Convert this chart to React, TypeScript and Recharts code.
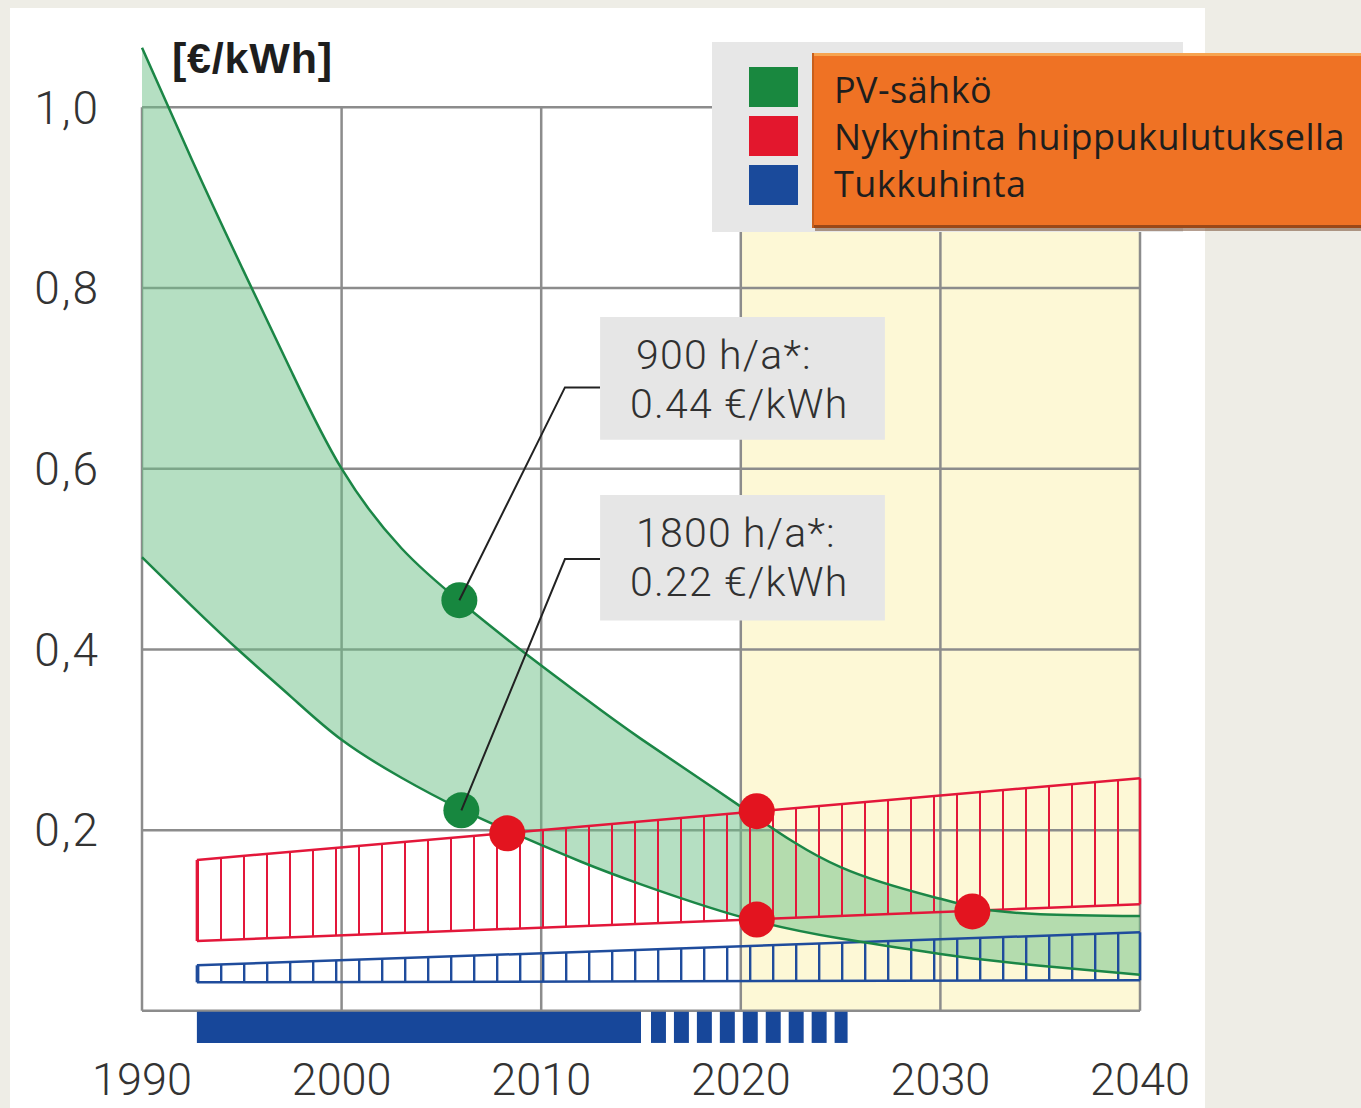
import React from 'react'
import {
  ComposedChart,
  Area,
  Line,
  XAxis,
  YAxis,
  Legend,
  ReferenceArea,
  ReferenceLine,
  ReferenceDot,
} from 'recharts'

// PV electricity cost band: upper edge = 900 h/a, lower edge = 1800 h/a
const pvYears = [1990, 1992.5, 1995, 1997.5, 2000, 2003, 2006, 2009, 2012, 2015, 2020, 2025, 2030, 2032, 2035, 2040]
const pv900 = [1.066, 0.942, 0.823, 0.707, 0.6, 0.512, 0.452, 0.399, 0.349, 0.301, 0.226, 0.159, 0.124, 0.113, 0.107, 0.105]
const pv1800 = [0.502, 0.448, 0.396, 0.347, 0.3, 0.258, 0.223, 0.193, 0.165, 0.14, 0.104, 0.08, 0.063, 0.057, 0.05, 0.04]

// peak-time retail price and wholesale price bands (straight edges)
const bandYears = [1992.75, 2040]
const peakLow = [0.0773, 0.118]
const peakHigh = [0.167, 0.2574]
const wholesaleLow = [0.0316, 0.0338]
const wholesaleHigh = [0.0504, 0.0869]

const pvDots = [
  { x: 2005.9, y: 0.4545 },
  { x: 2006.0, y: 0.222 },
]
const parityDots = [
  { x: 2008.3, y: 0.1965 },
  { x: 2020.8, y: 0.221 },
  { x: 2020.8, y: 0.101 },
  { x: 2031.6, y: 0.11 },
]

// timeline bar under the axis
const timelineSolid = [1992.75, 2015.0]
const dashStarts = [2015.5, 2016.65, 2017.8, 2018.95, 2020.1, 2021.25, 2022.4, 2023.55, 2024.7]
const dashEnds = [2016.25, 2017.4, 2018.55, 2019.7, 2020.85, 2022.0, 2023.15, 2024.3, 2025.35]

const xTicks = [1990, 2000, 2010, 2020, 2030, 2040]
const yTicks = [0.2, 0.4, 0.6, 0.8, 1.0]
const gridValues = [0, 0.2, 0.4, 0.6, 0.8, 1.0]
const forecastRange = [2020, 2040]

const callouts = [
  { lines: ['900 h/a*:', '0.44 €/kWh'], box: [2012.95, 2027.22, 0.632, 0.768], leader: [0.69, 2011.19], dot: pvDots[0] },
  { lines: ['1800 h/a*:', '0.22 €/kWh'], box: [2012.95, 2027.22, 0.432, 0.571], leader: [0.5, 2011.19], dot: pvDots[1] },
]

const legendItems = [
  { label: 'PV-sähkö', color: '#19883f' },
  { label: 'Nykyhinta huippukulutuksella', color: '#e3172d' },
  { label: 'Tukkuhinta', color: '#1a4a9b' },
]

const GREEN = '#1b8646'
const RED = '#e3173a'
const BLUE = '#1f4c9c'
const GRID = '#8c8c8c'
const LIGHT = { fontFamily: 'Roboto, "Liberation Sans", sans-serif', fontWeight: 300 }

const pvData = pvYears.map((x, i) => ({ x, band: [pv1800[i], pv900[i]], high: pv900[i], low: pv1800[i] }))
const peakData = bandYears.map((x, i) => ({ x, band: [peakLow[i], peakHigh[i]] }))
const wholesaleData = bandYears.map((x, i) => ({ x, band: [wholesaleLow[i], wholesaleHigh[i]] }))

function calloutLabel(lines: string[]) {
  return (props: any) => {
    const { x, y } = props.viewBox
    return (
      <text fontSize={41} letterSpacing={1.2} fill="#303030" {...LIGHT}>
        <tspan x={x + 36} y={y + 52}>{lines[0]}</tspan>
        <tspan x={x + 30} y={y + 101}>{lines[1]}</tspan>
      </text>
    )
  }
}

function unitLabel(props: any) {
  const { x, y, width } = props.viewBox
  return (
    <text x={x + width + 30} y={y + 38} fontSize={43} fontWeight={700} fill="#1e1e1e" letterSpacing={0.8}
      fontFamily='"Liberation Sans", Arial, sans-serif'>
      [€/kWh]
    </text>
  )
}

function LegendBox() {
  return (
    <svg width={649} height={196} style={{ display: 'block' }}>
      <rect x={0} y={0} width={471} height={190} fill="#e7e7e7" />
      {legendItems.map((item, i) => (
        <rect key={item.label} x={37} y={25 + i * 49} width={49} height={40} fill={item.color} />
      ))}
      <rect x={103} y={14} width={549} height={175} fill="#5a2a0a" opacity={0.45} />
      <rect x={100} y={11} width={549} height={175} fill="#ef7224" />
      <rect x={100} y={11} width={549} height={3} fill="#f7a450" />
      <rect x={100} y={183} width={549} height={3} fill="#9a4818" />
      <rect x={100} y={11} width={2} height={175} fill="#c85f1c" />
      {legendItems.map((item, i) => (
        <text key={item.label} x={122} y={61 + i * 47} fontSize={36} letterSpacing={0.45} fill="#1e1e1e"
          fontFamily='"Open Sans", sans-serif'>
          {item.label}
        </text>
      ))}
    </svg>
  )
}

export default function App() {
  return (
    <div style={{ position: 'absolute', left: 0, top: 0, width: 1361, height: 1108, overflow: 'hidden', background: '#eeede6' }}>
      <div style={{ position: 'absolute', left: 10, top: 8, width: 1195, height: 1100, background: '#ffffff' }} />
      <div style={{ position: 'absolute', left: 0, top: 0 }}>
        <ComposedChart width={1361} height={1108} margin={{ top: 35, right: 221, bottom: 0, left: 0 }}>
          <defs>
            <pattern id="peakHatch" patternUnits="userSpaceOnUse" x={197} y={0} width={23} height={40}>
              <rect x={0} y={0} width={2} height={40} fill={RED} />
            </pattern>
            <pattern id="wholesaleHatch" patternUnits="userSpaceOnUse" x={197} y={0} width={23} height={40}>
              <rect x={0} y={0} width={2.4} height={40} fill={BLUE} />
            </pattern>
          </defs>
          <XAxis
            dataKey="x"
            type="number"
            domain={[1990, 2040]}
            ticks={xTicks}
            interval={0}
            height={61}
            tickLine={false}
            axisLine={false}
            tickMargin={10}
            tick={{ fontSize: 45, fill: '#333', ...LIGHT }}
          />
          <YAxis
            type="number"
            domain={[-0.04, 1.08]}
            allowDataOverflow
            ticks={yTicks}
            width={142}
            tickLine={false}
            axisLine={false}
            tickMargin={36}
            tickFormatter={(v: number) => v.toFixed(1).replace('.', ',')}
            tick={{ fontSize: 46, fill: '#333', letterSpacing: 2, ...LIGHT }}
            label={unitLabel}
          />
          <Legend
            layout="horizontal"
            verticalAlign="middle"
            align="center"
            wrapperStyle={{ left: 712, top: 42, width: 649, height: 196 }}
            content={() => <LegendBox />}
          />

          <ReferenceArea x1={forecastRange[0]} x2={forecastRange[1]} y1={0} y2={1.0} fill="#fdf8d6" fillOpacity={1} stroke="none" zIndex={-150} />

          {gridValues.map((v) => (
            <ReferenceLine key={`h${v}`} segment={[{ x: 1990, y: v }, { x: 2040, y: v }]} stroke={GRID} strokeWidth={2.5} zIndex={-100} />
          ))}
          {xTicks.map((yr) => (
            <ReferenceLine key={`v${yr}`} segment={[{ x: yr, y: 0 }, { x: yr, y: 1.0 }]} stroke={GRID} strokeWidth={2.5} zIndex={-100} />
          ))}

          <Area data={pvData} dataKey="band" type="natural" stroke="none" fill="#6bbf85" fillOpacity={0.5} isAnimationActive={false} zIndex={100} />
          <Area data={peakData} dataKey="band" type="linear" stroke={RED} strokeWidth={2.5} fill="url(#peakHatch)" fillOpacity={1} isAnimationActive={false} zIndex={110} />
          <Area data={wholesaleData} dataKey="band" type="linear" stroke={BLUE} strokeWidth={2.5} fill="url(#wholesaleHatch)" fillOpacity={1} isAnimationActive={false} zIndex={120} />
          {bandYears.map((yr, i) => (
            <ReferenceLine key={`pe${yr}`} segment={[{ x: yr, y: peakLow[i] }, { x: yr, y: peakHigh[i] }]} stroke={RED} strokeWidth={2.5} zIndex={130} />
          ))}
          {bandYears.map((yr, i) => (
            <ReferenceLine key={`we${yr}`} segment={[{ x: yr, y: wholesaleLow[i] }, { x: yr, y: wholesaleHigh[i] }]} stroke={BLUE} strokeWidth={2.5} zIndex={130} />
          ))}

          <Line data={pvData} dataKey="high" type="natural" stroke={GREEN} strokeWidth={2.5} dot={false} activeDot={false} isAnimationActive={false} zIndex={400} />
          <Line data={pvData} dataKey="low" type="natural" stroke={GREEN} strokeWidth={2.5} dot={false} activeDot={false} isAnimationActive={false} zIndex={400} />

          <ReferenceArea x1={timelineSolid[0]} x2={timelineSolid[1]} y1={-0.0355} y2={-0.001} fill="#17479a" fillOpacity={1} stroke="none" zIndex={140} />
          {dashStarts.map((s, i) => (
            <ReferenceArea key={`d${s}`} x1={s} x2={dashEnds[i]} y1={-0.0355} y2={-0.001} fill="#17479a" fillOpacity={1} stroke="none" zIndex={140} />
          ))}

          {pvDots.map((d) => (
            <ReferenceDot key={`g${d.y}`} x={d.x} y={d.y} r={18} fill="#17873f" stroke="none" zIndex={600} />
          ))}
          {parityDots.map((d) => (
            <ReferenceDot key={`r${d.x}-${d.y}`} x={d.x} y={d.y} r={18} fill="#e3141f" stroke="none" zIndex={600} />
          ))}

          {callouts.map((c) => (
            <Line
              key={`l${c.lines[0]}`}
              data={[
                { x: c.box[0], y: c.leader[0] },
                { x: c.leader[1], y: c.leader[0] },
                { x: c.dot.x, y: c.dot.y },
              ]}
              dataKey="y"
              type="linear"
              stroke="#222"
              strokeWidth={2}
              dot={false}
              activeDot={false}
              isAnimationActive={false}
              zIndex={650}
            />
          ))}
          {callouts.map((c) => (
            <ReferenceArea
              key={`c${c.lines[0]}`}
              x1={c.box[0]}
              x2={c.box[1]}
              y1={c.box[2]}
              y2={c.box[3]}
              fill="#e6e6e6"
              fillOpacity={1}
              stroke="none"
              zIndex={700}
              label={calloutLabel(c.lines)}
            />
          ))}
        </ComposedChart>
      </div>
    </div>
  )
}
